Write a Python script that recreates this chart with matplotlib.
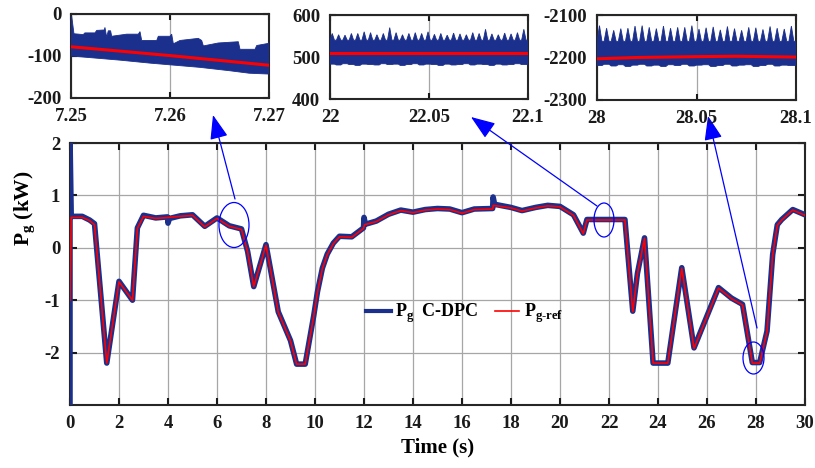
import numpy as np
import matplotlib
matplotlib.use("Agg")
import matplotlib.pyplot as plt
from matplotlib.patches import Ellipse
from matplotlib.lines import Line2D

# ---------------- data ----------------
# reference grid power (kW)
ref_t = [0.0, 0.05, 0.5, 0.8, 1.0, 1.5, 2.0, 2.55, 2.75, 3.0, 3.5, 4.0, 4.5, 5.0,
         5.5, 6.0, 6.5, 7.0, 7.25, 7.5, 8.0, 8.5, 9.0, 9.25, 9.6, 9.95, 10.1,
         10.3, 10.5, 10.75, 11.0, 11.5, 11.98, 12.02, 12.5, 13.0, 13.5, 14.0,
         14.5, 15.0, 15.5, 16.0, 16.5, 17.25, 17.28, 18.0, 18.45, 19.0, 19.5,
         20.0, 20.55, 20.95, 21.1, 22.65, 22.97, 23.16, 23.45, 23.8, 24.4,
         24.97, 25.47, 26.47, 27.0, 27.45, 27.85, 28.15, 28.45, 28.68, 28.87,
         29.05, 29.5, 30.0]
ref_v = [-1.0, 0.58, 0.58, 0.52, 0.44, -2.2, -0.65, -1.0, 0.37, 0.6, 0.56, 0.58,
         0.6, 0.62, 0.4, 0.56, 0.41, 0.35, -0.08, -0.74, 0.05, -1.23, -1.78,
         -2.22, -2.22, -1.3, -0.85, -0.4, -0.13, 0.08, 0.21, 0.2, 0.37, 0.44,
         0.5, 0.63, 0.71, 0.67, 0.72, 0.74, 0.73, 0.66, 0.73, 0.74, 0.81, 0.76,
         0.7, 0.76, 0.8, 0.78, 0.62, 0.27, 0.53, 0.53, -1.22, -0.5, 0.18, -2.2,
         -2.2, -0.39, -1.92, -0.77, -0.97, -1.09, -2.2, -2.2, -1.6, -0.14, 0.43,
         0.53, 0.72, 0.62]

# measured grid power with C-DPC (kW)
pg_t = [0.0, 0.0, 0.05, 0.5, 0.8, 1.0, 1.5, 2.0, 2.55, 2.75, 3.0, 3.5, 3.98, 4.0,
        4.06, 4.5, 5.0, 5.5, 6.0, 6.5, 7.0, 7.25, 7.5, 8.0, 8.5, 9.0, 9.25, 9.6,
        9.95, 10.1, 10.3, 10.5, 10.75, 11.0, 11.5, 11.98, 12.0, 12.06, 12.5,
        13.0, 13.5, 14.0, 14.5, 15.0, 15.5, 16.0, 16.5, 17.25, 17.27, 17.33,
        18.0, 18.45, 19.0, 19.5, 20.0, 20.55, 20.95, 21.1, 22.65, 22.97, 23.16,
        23.45, 23.8, 24.4, 24.97, 25.47, 26.47, 27.0, 27.45, 27.85, 28.15,
        28.45, 28.68, 28.87, 29.05, 29.5, 30.0]
pg_v = [-3.1, 2.1, 0.6, 0.6, 0.53, 0.46, -2.2, -0.64, -1.0, 0.38, 0.62, 0.57,
        0.59, 0.47, 0.56, 0.61, 0.63, 0.41, 0.57, 0.42, 0.36, -0.07, -0.74, 0.06,
        -1.22, -1.77, -2.22, -2.22, -1.29, -0.84, -0.39, -0.12, 0.09, 0.22, 0.21,
        0.38, 0.58, 0.45, 0.51, 0.64, 0.72, 0.68, 0.73, 0.75, 0.74, 0.67, 0.74,
        0.75, 0.97, 0.83, 0.77, 0.71, 0.77, 0.81, 0.79, 0.63, 0.28, 0.54, 0.54,
        -1.21, -0.49, 0.19, -2.2, -2.2, -0.38, -1.91, -0.76, -0.96, -1.08,
        -2.19, -2.19, -1.59, -0.13, 0.44, 0.54, 0.73, 0.63]

# zoom 1: 7.25 s - 7.27 s (W)
z1_ref_t = [7.25, 7.26, 7.27]
z1_ref_v = [-78, -99, -122]
z1_up_t = [7.25, 7.25007, 7.2503, 7.25124, 7.2514, 7.25242, 7.2526, 7.25336,
           7.25343, 7.2536, 7.25377, 7.254, 7.25411, 7.25563, 7.2568, 7.25697,
           7.25714, 7.25866, 7.25882, 7.26, 7.26017, 7.26034, 7.26101, 7.26286,
           7.2632, 7.26337, 7.26488, 7.2669, 7.26707, 7.26859, 7.26876,
           7.26993, 7.27]
z1_up_v = [-60, -5, -47, -49, -45, -45, -39, -38, -32, -55, -40, -40, -53, -48,
           -48, -42, -63, -63, -53, -53, -48, -71, -63, -58, -63, -76, -69,
           -66, -84, -84, -75, -70, -68]
z1_lo_t = [7.25, 7.252, 7.255, 7.258, 7.26, 7.263, 7.266, 7.268, 7.27]
z1_lo_v = [-100, -104, -110, -117, -121, -127, -135, -141, -143]

# zoom 2: 22 s - 22.1 s (W)
z2_ref_t = [22.0, 22.1]
z2_ref_v = [510, 510]
z2_peaks = [556, 553, 552, 556, 556, 560, 558, 553, 556, 570, 558, 553, 556, 558,
            556, 560, 554, 556, 552, 557, 555, 553, 558, 556, 566, 555, 553, 557,
            555, 558, 566]
z2_base = 540
z2_troughs = [483, 481, 484, 482, 480, 483, 482, 481, 484, 482, 483, 480, 482,
              484, 481, 483, 482, 480, 483, 481, 482, 484, 481, 483, 482, 480,
              483, 481, 482, 484, 482]

# zoom 3: 28 s - 28.1 s (W)
z3_ref_t = [28.0, 28.02, 28.05, 28.07, 28.1]
z3_ref_v = [-2203, -2200, -2198, -2197, -2199]
z3_peaks = [-2125, -2131, -2136, -2132, -2131, -2126, -2125, -2129, -2132, -2126,
            -2131, -2129, -2129, -2125, -2133, -2130, -2128, -2135, -2127, -2132,
            -2136, -2129, -2130, -2134, -2127, -2131, -2133, -2126]
z3_base = -2162
z3_troughs = [-2219, -2216, -2220, -2217, -2221, -2218, -2216, -2220, -2218,
              -2221, -2217, -2219, -2216, -2220, -2218, -2217, -2221, -2219,
              -2216, -2220, -2218, -2217, -2221, -2219, -2216, -2220, -2218,
              -2219]

main_xticks = list(range(0, 31, 2))
main_yticks = [-2, -1, 0, 1, 2]

BLUE = "#1b2f8c"
RED = "#ff0000"
ANN = "#0000ff"

plt.rcParams.update({
    "font.family": ["Liberation Serif", "DejaVu Serif"],
    "font.weight": "bold",
    "axes.labelweight": "bold",
    "axes.unicode_minus": False,
    "axes.linewidth": 1.5,
    "axes.edgecolor": "#262626",
})

W, H = 815, 468
fig = plt.figure(figsize=(W / 100, H / 100), dpi=100)


def box(x0, y0, x1, y1):
    """Axes rectangle from pixel corners (top-left origin)."""
    return [x0 / W, 1 - y1 / H, (x1 - x0) / W, (y1 - y0) / H]


def style(ax, size=13.5, length=4.5):
    ax.tick_params(direction="in", top=True, right=True, length=length,
                   width=1.5, labelsize=size, pad=7, colors="#1a1a1a")
    ax.grid(True, color="#a6a6a6", lw=0.9)
    ax.set_axisbelow(True)


# ---------------- main axes ----------------
ax = fig.add_axes(box(70, 143, 805, 405))
ax.plot(pg_t, pg_v, color=BLUE, lw=4.0, zorder=3, solid_joinstyle="round")
ax.plot(ref_t, ref_v, color=RED, lw=1.2, zorder=4)
ax.set_xlim(0, 30)
ax.set_ylim(-3, 2)
ax.set_xticks(main_xticks)
ax.set_yticks(main_yticks)
style(ax, size=13.5, length=5)
ax.set_xlabel("Time (s)", fontsize=15, labelpad=4)
fig.text(25 / W, 1 - 208 / H, r"P$_\mathregular{g}$ (kW)", rotation=90,
         ha="center", va="center", fontsize=15.5)

handles = [Line2D([], [], color=BLUE, lw=3.0), Line2D([], [], color=RED, lw=1.2)]
labels = [r"P$_\mathregular{g}$  C-DPC", "P$_\\mathregular{g\u2010ref}$"]
ax.legend(handles, labels, loc="center left", bbox_to_anchor=(0.381, 0.35),
          ncol=2, frameon=False, fontsize=13, handlelength=1.35,
          handletextpad=0.25, columnspacing=0.9, borderpad=0.4)


def teeth(t0, t1, peaks, base, troughs):
    n = len(peaks)
    starts = np.linspace(t0, t1, n + 1)[:-1]
    p = (t1 - t0) / n
    tt, up, lo = [], [], []
    for s, pk, tr in zip(starts, peaks, troughs):
        tt += [s, s + 0.35 * p, s + 0.7 * p]
        up += [base, pk, base]
        lo += [tr, tr, tr]
    tt.append(t1)
    up.append(base)
    lo.append(troughs[-1])
    return np.array(tt), np.array(up), np.array(lo)


# ---------------- zoom 1 ----------------
a1 = fig.add_axes(box(71, 14, 269, 98))
a1.fill(np.concatenate([z1_up_t, z1_lo_t[::-1]]),
        np.concatenate([z1_up_v, z1_lo_v[::-1]]), color=BLUE, lw=0.6, zorder=3)
a1.plot(z1_ref_t, z1_ref_v, color=RED, lw=2.2, zorder=4)
a1.set_xlim(7.25, 7.27)
a1.set_ylim(-200, 0)
a1.set_xticks([7.25, 7.26, 7.27])
a1.set_xticklabels(["7.25", "7.26", "7.27"])
a1.set_yticks([-200, -100, 0])
style(a1)

# ---------------- zoom 2 ----------------
a2 = fig.add_axes(box(330, 15, 528, 99))
t2, u2, l2 = teeth(22.0, 22.1, z2_peaks, z2_base, z2_troughs)
a2.fill(np.concatenate([t2, t2[::-1]]), np.concatenate([u2, l2[::-1]]),
        color=BLUE, lw=0.6, zorder=3)
a2.plot(z2_ref_t, z2_ref_v, color=RED, lw=2.2, zorder=4)
a2.set_xlim(22, 22.1)
a2.set_ylim(400, 600)
a2.set_xticks([22, 22.05, 22.1])
a2.set_xticklabels(["22", "22.05", "22.1"])
a2.set_yticks([400, 500, 600])
style(a2)

# ---------------- zoom 3 ----------------
a3 = fig.add_axes(box(597, 15, 796, 100))
t3, u3, l3 = teeth(28.0, 28.1, z3_peaks, z3_base, z3_troughs)
a3.fill(np.concatenate([t3, t3[::-1]]), np.concatenate([u3, l3[::-1]]),
        color=BLUE, lw=0.6, zorder=3)
a3.plot(z3_ref_t, z3_ref_v, color=RED, lw=2.2, zorder=4)
a3.set_xlim(28, 28.1)
a3.set_ylim(-2300, -2100)
a3.set_xticks([28, 28.05, 28.1])
a3.set_xticklabels(["28", "28.05", "28.1"])
a3.set_yticks([-2300, -2200, -2100])
style(a3)

# ---------------- callouts ----------------
def fp(x, y):
    return (x / W, 1 - y / H)


for cx, cy, ew, eh in [(234, 225, 30, 45), (604, 220, 20, 34), (753.5, 358, 21, 32)]:
    fig.add_artist(Ellipse(fp(cx, cy), ew / W, eh / H, transform=fig.transFigure,
                           fill=False, ec=ANN, lw=0.9, zorder=10))

for tail, tip in [((235, 199), (213, 115)), ((597, 206), (471, 117)),
                  ((757, 328), (708, 116))]:
    ax.annotate("", xy=fp(*tip), xytext=fp(*tail), xycoords="figure fraction",
                textcoords="figure fraction", annotation_clip=False,
                arrowprops=dict(arrowstyle="-|>,head_length=0.75,head_width=0.28",
                                mutation_scale=20, color=ANN, lw=0.9,
                                shrinkA=0, shrinkB=0), zorder=10)

fig.savefig("out.png", dpi=100)
